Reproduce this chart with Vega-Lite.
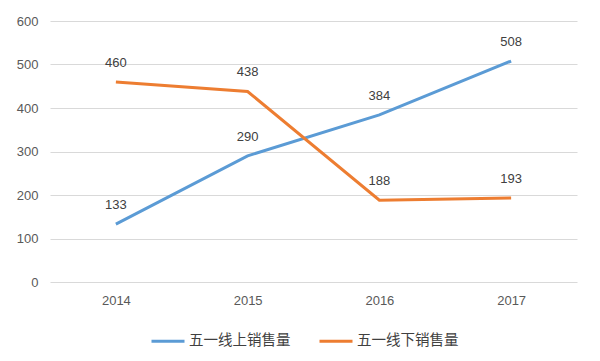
{
  "$schema": "https://vega.github.io/schema/vega-lite/v6.json",
  "width": 527,
  "height": 261,
  "autosize": {"type": "none"},
  "padding": {"left": 50, "top": 21, "right": 23, "bottom": 79},
  "background": "white",
  "config": {
    "view": {"stroke": null},
    "font": "Noto Sans CJK SC",
    "axis": {"labelFont": "Liberation Sans", "labelColor": "#595959", "labelFontSize": 13}
  },
  "data": {
    "values": [
      {"year": "2014", "series": "五一线上销售量", "value": 133},
      {"year": "2015", "series": "五一线上销售量", "value": 290},
      {"year": "2016", "series": "五一线上销售量", "value": 384},
      {"year": "2017", "series": "五一线上销售量", "value": 508},
      {"year": "2014", "series": "五一线下销售量", "value": 460},
      {"year": "2015", "series": "五一线下销售量", "value": 438},
      {"year": "2016", "series": "五一线下销售量", "value": 188},
      {"year": "2017", "series": "五一线下销售量", "value": 193}
    ]
  },
  "encoding": {
    "x": {
      "field": "year", "type": "ordinal",
      "scale": {"type": "point", "padding": 0.5},
      "axis": {"title": null, "labelAngle": 0, "domain": false, "ticks": false, "labelPadding": 12, "grid": false}
    },
    "y": {
      "field": "value", "type": "quantitative",
      "scale": {"domain": [0, 600]},
      "axis": {"title": null, "values": [0, 100, 200, 300, 400, 500, 600], "domain": false, "ticks": false, "labelPadding": 12, "gridColor": "#d9d9d9", "gridWidth": 1.2}
    },
    "color": {
      "field": "series", "type": "nominal",
      "scale": {"domain": ["五一线上销售量", "五一线下销售量"], "range": ["#5B9BD5", "#ED7D31"]},
      "legend": {
        "title": null, "orient": "none", "direction": "horizontal",
        "legendX": 100, "legendY": 302,
        "symbolType": "stroke", "symbolStrokeWidth": 3, "symbolSize": 1089,
        "labelFontSize": 14.5, "labelColor": "#404040", "labelFont": "Noto Sans CJK SC",
        "labelOffset": 3, "columnPadding": 22
      }
    }
  },
  "layer": [
    {"mark": {"type": "line", "strokeWidth": 3}},
    {
      "mark": {"type": "text", "dy": -19, "fontSize": 13, "color": "#404040", "font": "Liberation Sans"},
      "encoding": {"text": {"field": "value", "type": "quantitative"}, "color": {"value": "#404040"}}
    }
  ]
}
